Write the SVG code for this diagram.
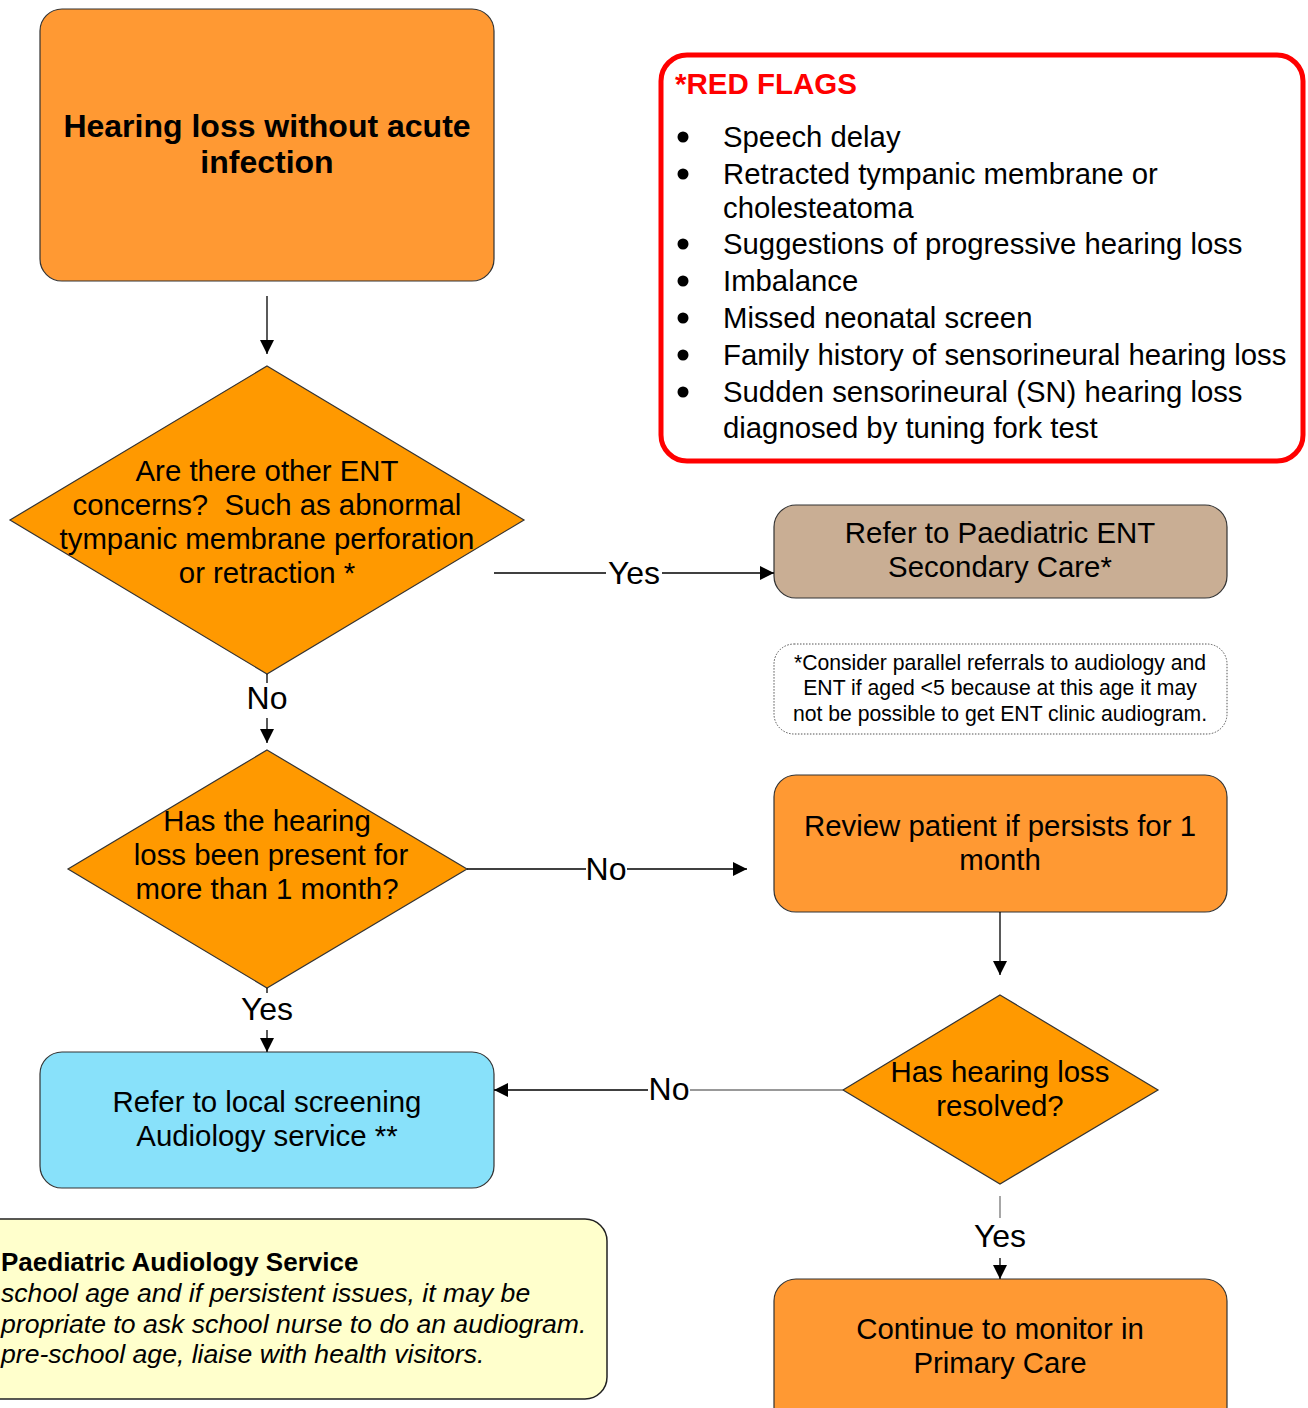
<svg xmlns="http://www.w3.org/2000/svg" width="1308" height="1408" viewBox="0 0 1308 1408">
<defs>
<style>
text{font-family:"Liberation Sans",Arial,sans-serif;fill:#000}
.t{font-size:29.4px;text-anchor:middle}
.ttl{font-size:32px;font-weight:bold;text-anchor:middle}
.lbl{font-size:32px;text-anchor:middle}
.box{fill:#FF9933;stroke:#333;stroke-width:1.2}
.dia{fill:#FF9900;stroke:#333;stroke-width:1.2}
.ln{stroke:#000;stroke-width:1.3;fill:none}
.rf{font-size:29.3px}
.it{font-size:26.6px;font-style:italic}
</style>
<marker id="ah" markerUnits="userSpaceOnUse" markerWidth="14" markerHeight="14" refX="14" refY="7" orient="auto">
<path d="M0,0 L14,7 L0,14 z" fill="#000"/>
</marker>
</defs>
<rect width="1308" height="1408" fill="#fff"/>

<g id="start">
<rect class="box" x="40" y="9" width="454" height="272" rx="22"/>
<text class="ttl" x="267" y="137">Hearing loss without acute</text>
<text class="ttl" x="267" y="173">infection</text>
</g>

<g id="redflags">
<rect x="661" y="55" width="642" height="406" rx="26" fill="#fff" stroke="#FF0000" stroke-width="5"/>
<text x="675" y="94" font-size="29.5" font-weight="bold" style="fill:#FF0000">*RED FLAGS</text>
<g fill="#000">
<circle cx="683" cy="137" r="5.5"/>
<circle cx="683" cy="174" r="5.5"/>
<circle cx="683" cy="244" r="5.5"/>
<circle cx="683" cy="281" r="5.5"/>
<circle cx="683" cy="318" r="5.5"/>
<circle cx="683" cy="355" r="5.5"/>
<circle cx="683" cy="392" r="5.5"/>
</g>
<text class="rf" x="723" y="147">Speech delay</text>
<text class="rf" x="723" y="184">Retracted tympanic membrane or</text>
<text class="rf" x="723" y="218">cholesteatoma</text>
<text class="rf" x="723" y="254">Suggestions of progressive hearing loss</text>
<text class="rf" x="723" y="291">Imbalance</text>
<text class="rf" x="723" y="328">Missed neonatal screen</text>
<text class="rf" x="723" y="365">Family history of sensorineural hearing loss</text>
<text class="rf" x="723" y="402">Sudden sensorineural (SN) hearing loss</text>
<text class="rf" x="723" y="438">diagnosed by tuning fork test</text>
</g>

<g id="q1">
<polygon class="dia" points="267,366 524,520 267,674 10,520"/>
<text class="t" x="267" y="481">Are there other ENT</text>
<text class="t" x="267" y="515">concerns?&#160; Such as abnormal</text>
<text class="t" x="267" y="549">tympanic membrane perforation</text>
<text class="t" x="267" y="583">or retraction *</text>
</g>

<g id="ent">
<rect x="774" y="505" width="453" height="93" rx="22" fill="#C9AE94" stroke="#333" stroke-width="1.2"/>
<text class="t" x="1000" y="543">Refer to Paediatric ENT</text>
<text class="t" x="1000" y="577">Secondary Care*</text>
</g>

<g id="note">
<rect x="774" y="644" width="453" height="90" rx="20" fill="#fff" stroke="#555" stroke-width="1" stroke-dasharray="1.5,1.5"/>
<text x="1000" y="670" font-size="21.2" text-anchor="middle">*Consider parallel referrals to audiology and</text>
<text x="1000" y="695" font-size="21.2" text-anchor="middle">ENT if aged &lt;5 because at this age it may</text>
<text x="1000" y="721" font-size="21.2" text-anchor="middle">not be possible to get ENT clinic audiogram.</text>
</g>

<g id="q2">
<polygon class="dia" points="267,750 467,869 267,988 68,869"/>
<text class="t" x="267" y="831">Has the hearing</text>
<text class="t" x="271" y="865">loss been present for</text>
<text class="t" x="267" y="899">more than 1 month?</text>
</g>

<g id="review">
<rect class="box" x="774" y="775" width="453" height="137" rx="22"/>
<text class="t" x="1000" y="836">Review patient if persists for 1</text>
<text class="t" x="1000" y="870">month</text>
</g>

<g id="audiology">
<rect x="40" y="1052" width="454" height="136" rx="22" fill="#88E1FA" stroke="#333" stroke-width="1.2"/>
<text class="t" x="267" y="1112">Refer to local screening</text>
<text class="t" x="267" y="1146">Audiology service **</text>
</g>

<g id="q3">
<polygon class="dia" points="1000,995 1158,1090 1000,1184 843,1090"/>
<text class="t" x="1000" y="1082">Has hearing loss</text>
<text class="t" x="1000" y="1116">resolved?</text>
</g>

<g id="monitor">
<rect class="box" x="774" y="1279" width="453" height="150" rx="22"/>
<text class="t" x="1000" y="1339">Continue to monitor in</text>
<text class="t" x="1000" y="1373">Primary Care</text>
</g>

<g id="paedinfo">
<rect x="-30" y="1219" width="637" height="180" rx="22" fill="#FFFFCC" stroke="#222" stroke-width="1.5"/>
<text x="1" y="1271" font-size="26" font-weight="bold">Paediatric Audiology Service</text>
<text class="it" x="1" y="1302">school age and if persistent issues, it may be</text>
<text class="it" x="1" y="1333">propriate to ask school nurse to do an audiogram.</text>
<text class="it" x="1" y="1363">pre-school age, liaise with health visitors.</text>
</g>

<g id="connectors">
<line class="ln" x1="267" y1="296" x2="267" y2="354" marker-end="url(#ah)"/>
<line class="ln" x1="494" y1="573" x2="606" y2="573"/>
<line class="ln" x1="662" y1="573" x2="774" y2="573" marker-end="url(#ah)"/>
<text class="lbl" x="634" y="584">Yes</text>
<line class="ln" x1="267" y1="674" x2="267" y2="683"/>
<text class="lbl" x="267" y="709">No</text>
<line class="ln" x1="267" y1="718" x2="267" y2="743" marker-end="url(#ah)"/>
<line class="ln" x1="467" y1="869" x2="586" y2="869"/>
<text class="lbl" x="606" y="880">No</text>
<line class="ln" x1="627" y1="869" x2="747" y2="869" marker-end="url(#ah)"/>
<line class="ln" x1="267" y1="988" x2="267" y2="993"/>
<text class="lbl" x="267" y="1020">Yes</text>
<line class="ln" x1="267" y1="1030" x2="267" y2="1052" marker-end="url(#ah)"/>
<line class="ln" x1="1000" y1="912" x2="1000" y2="975" marker-end="url(#ah)"/>
<line x1="843" y1="1090" x2="690" y2="1090" stroke="#777" stroke-width="1.5"/>
<text class="lbl" x="669" y="1100">No</text>
<line class="ln" x1="648" y1="1090" x2="494" y2="1090" marker-end="url(#ah)"/>
<line x1="1000" y1="1196" x2="1000" y2="1218" stroke="#777" stroke-width="1.3"/>
<text class="lbl" x="1000" y="1247">Yes</text>
<line class="ln" x1="1000" y1="1258" x2="1000" y2="1279" marker-end="url(#ah)"/>
</g>
</svg>
